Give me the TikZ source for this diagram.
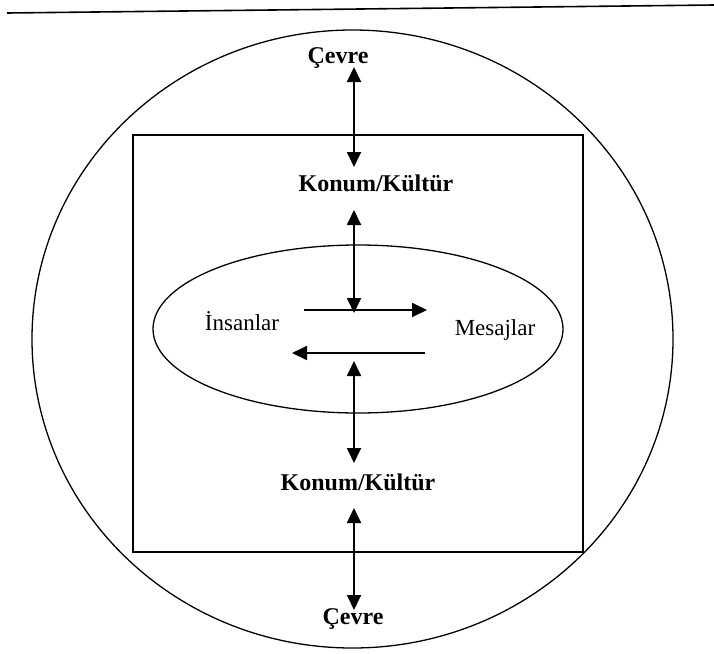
\documentclass[tikz,border=0pt]{standalone}
\usepackage{fontspec}
\setmainfont{Liberation Serif}
\usetikzlibrary{arrows.meta}
\begin{document}
\begin{tikzpicture}[x=1pt,y=-1pt,
  thinline/.style={line width=1.3pt},
  dblarr/.style={line width=1.8pt,{Triangle[length=15pt,width=14pt]}-{Triangle[length=15pt,width=14pt]}},
  onearr/.style={line width=1.8pt,-{Triangle[length=15pt,width=14pt]}},
  boldlbl/.style={font=\fontsize{24}{28}\selectfont\bfseries, anchor=base, inner sep=0pt},
  lbl/.style={font=\fontsize{23}{27}\selectfont, anchor=base, inner sep=0pt}]
\useasboundingbox (0,0) rectangle (714,653);
\draw[line width=1.6pt] (7,13) -- (714,5);
\draw[thinline] (352.5,339) ellipse [x radius=320.5, y radius=309];
\draw[thinline] (133,135) rectangle (583,552);
\draw[thinline] (358,329) ellipse [x radius=205, y radius=84];
\node[boldlbl] (cevreT) at (338,63) {Çevre};
\node[boldlbl] (konumT) at (376,191) {Konum/Kültür};
\node[boldlbl] (konumB) at (358,490) {Konum/Kültür};
\node[boldlbl] (cevreB) at (353,624) {Çevre};
\node[lbl] (insan) at (242,330) {İnsanlar};
\node[lbl] (mesaj) at (495,335) {Mesajlar};
\coordinate (a1s) at (354,67);
\coordinate (a1e) at (354,167);
\coordinate (a2s) at (354,210);
\coordinate (a2e) at (354,313);
\coordinate (a3s) at (354,361);
\coordinate (a3e) at (354,463);
\coordinate (a4s) at (354,508);
\coordinate (a4e) at (354,610);
\coordinate (h1s) at (304,310);
\coordinate (h1e) at (427,310);
\coordinate (h2s) at (425,353);
\coordinate (h2e) at (292,353);
\draw[dblarr] (a1s) -- (a1e);
\draw[dblarr] (a2s) -- (a2e);
\draw[dblarr] (a3s) -- (a3e);
\draw[dblarr] (a4s) -- (a4e);
\draw[onearr] (h1s) -- (h1e);
\draw[onearr] (h2s) -- (h2e);
\end{tikzpicture}
\end{document}
